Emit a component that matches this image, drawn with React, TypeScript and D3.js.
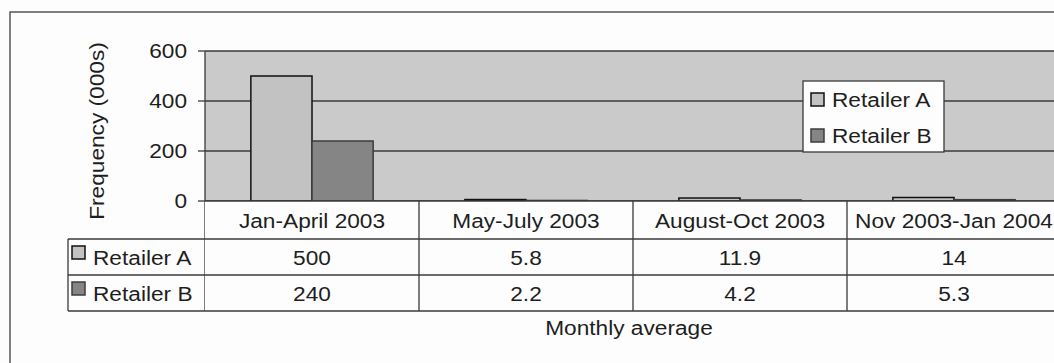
import React from "react";
import * as d3 from "d3";

// Monthly average frequency (000s) per period
const categories = ["Jan-April 2003", "May-July 2003", "August-Oct 2003", "Nov 2003-Jan 2004"];
const seriesNames = ["Retailer A", "Retailer B"];
const retailerA = [500, 5.8, 11.9, 14];
const retailerB = [240, 2.2, 4.2, 5.3];
const yTicks = [0, 200, 400, 600];

const W = 1054;
const H = 363;
const FONT = "'Liberation Sans', Arial, sans-serif";
const FS = 21;
const SX = 1.08; // slightly wide lettering
const TEXT = "#1e1e1e";
const LINE = "#3a3a3a";

const plot = { left: 205, top: 51, bottom: 201, right: 1061 };
const table = { labelLeft: 68, headerBottom: 239, rowA: 275, rowB: 311 };

const fills = ["#c2c2c2", "#858585"];
const strokes = ["#111", "#3c3c3c"];

function T({
  x,
  y,
  anchor = "start",
  rotate = 0,
  children,
}: {
  x: number;
  y: number;
  anchor?: "start" | "middle" | "end";
  rotate?: number;
  children: React.ReactNode;
}) {
  return (
    <text
      transform={`translate(${x},${y}) rotate(${rotate}) scale(${SX},1)`}
      textAnchor={anchor}
      fill={TEXT}
    >
      {children}
    </text>
  );
}

export default function App() {
  const series = [retailerA, retailerB];
  const x = d3.scaleBand<string>().domain(categories).range([plot.left, plot.right]).paddingInner(0);
  // Excel-style 150% gap width: two bars fill 2 / 3.5 of each band
  const groupW = (x.bandwidth() * 2) / 3.5;
  const xs = d3.scaleBand<string>().domain(seriesNames).range([0, groupW]);
  const y = d3.scaleLinear().domain([0, 600]).range([plot.bottom, plot.top]);

  const rowYs = [table.headerBottom, table.rowA, table.rowB];

  return (
    <svg
      width={W}
      height={H}
      style={{ position: "absolute", left: 0, top: 0, background: "#fdfdfd" }}
      fontFamily={FONT}
      fontSize={FS}
    >
      {/* outer chart frame */}
      <rect x={10} y={12} width={W + 20} height={H + 20} fill="#fdfdfd" stroke="#555" strokeWidth={1.5} />

      {/* plot area */}
      <rect x={plot.left} y={plot.top} width={plot.right - plot.left} height={plot.bottom - plot.top} fill="#cacaca" />

      {/* gridlines */}
      {yTicks.map((t) => (
        <line key={"g" + t} x1={plot.left} x2={plot.right} y1={y(t)} y2={y(t)} stroke={LINE} strokeWidth={1.3} />
      ))}

      {/* bars */}
      {categories.map((c, i) => {
        const gx = (x(c) as number) + (x.bandwidth() - groupW) / 2;
        return seriesNames.map((s, j) => {
          const v = series[j][i];
          return (
            <rect
              key={c + s}
              x={gx + (xs(s) as number)}
              y={y(v)}
              width={xs.bandwidth()}
              height={y(0) - y(v)}
              fill={fills[j]}
              stroke={strokes[j]}
              strokeWidth={1.5}
            />
          );
        });
      })}

      {/* y axis */}
      <line x1={plot.left} x2={plot.left} y1={plot.top} y2={table.rowB} stroke={LINE} strokeWidth={1.3} />
      {yTicks.map((t) => (
        <g key={"t" + t}>
          <line x1={plot.left - 7} x2={plot.left} y1={y(t)} y2={y(t)} stroke={LINE} strokeWidth={1.3} />
          <T x={187} y={y(t) + 7} anchor="end">
            {t}
          </T>
        </g>
      ))}
      <T x={104} y={(plot.top + plot.bottom) / 2 + 5} anchor="middle" rotate={-90}>
        Frequency (000s)
      </T>

      {/* data table */}
      <rect x={plot.left} y={plot.bottom} width={plot.right - plot.left} height={table.rowB - plot.bottom} fill="#fdfdfd" />
      <line x1={plot.left} x2={plot.right + 10} y1={plot.bottom} y2={plot.bottom} stroke={LINE} strokeWidth={1.5} />
      {rowYs.map((ry) => (
        <line key={"r" + ry} x1={table.labelLeft} x2={plot.right + 10} y1={ry} y2={ry} stroke={LINE} strokeWidth={1.3} />
      ))}
      <line x1={table.labelLeft} x2={table.labelLeft} y1={table.headerBottom} y2={table.rowB} stroke={LINE} strokeWidth={1.3} />
      {categories.map((c) => (
        <line
          key={"v" + c}
          x1={(x(c) as number) + x.bandwidth()}
          x2={(x(c) as number) + x.bandwidth()}
          y1={plot.bottom}
          y2={table.rowB}
          stroke={LINE}
          strokeWidth={1.3}
        />
      ))}
      {categories.map((c) => (
        <T key={"h" + c} x={(x(c) as number) + x.bandwidth() / 2} y={228} anchor="middle">
          {c}
        </T>
      ))}
      {seriesNames.map((s, j) => {
        const top = rowYs[j];
        return (
          <g key={"row" + s}>
            <rect x={72} y={top + 7} width={13} height={13} fill={fills[j]} stroke={strokes[j]} strokeWidth={1.5} />
            <T x={93} y={top + 26}>
              {s}
            </T>
            {categories.map((c, i) => (
              <T key={s + c} x={(x(c) as number) + x.bandwidth() / 2} y={top + 26} anchor="middle">
                {String(series[j][i])}
              </T>
            ))}
          </g>
        );
      })}
      <T x={(plot.left + plot.right) / 2 - 4} y={335} anchor="middle">
        Monthly average
      </T>

      {/* legend */}
      <rect x={803} y={81} width={141} height={71} fill="#fdfdfd" stroke={LINE} strokeWidth={1.3} />
      {seriesNames.map((s, j) => (
        <g key={"lg" + s}>
          <rect x={811} y={93 + j * 36} width={13} height={13} fill={fills[j]} stroke={strokes[j]} strokeWidth={1.5} />
          <T x={832} y={107 + j * 36}>
            {s}
          </T>
        </g>
      ))}
    </svg>
  );
}
